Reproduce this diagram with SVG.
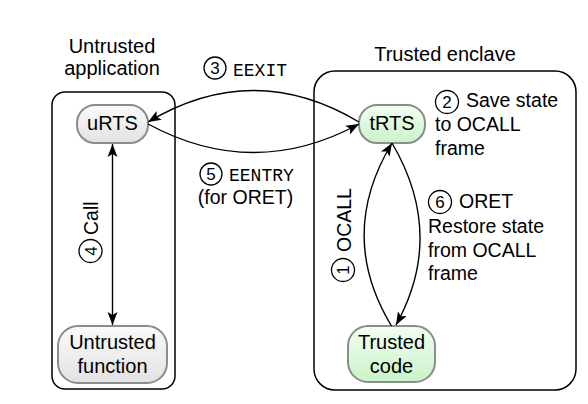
<svg xmlns="http://www.w3.org/2000/svg" width="588" height="404" viewBox="0 0 588 404">
<defs>
<linearGradient id="gGray" x1="0" y1="0" x2="0" y2="1">
<stop offset="0" stop-color="#fafafa"/>
<stop offset="1" stop-color="#e2e2e2"/>
</linearGradient>
<linearGradient id="gGreen" x1="0" y1="0" x2="0" y2="1">
<stop offset="0" stop-color="#f2fff2"/>
<stop offset="1" stop-color="#c9f3c9"/>
</linearGradient>
<marker id="ah" markerUnits="userSpaceOnUse" markerWidth="14" markerHeight="11" refX="13" refY="5" orient="auto-start-reverse" viewBox="0 0 14 10">
<path d="M0,0 L13,5 L0,10 L3,5 z" fill="#000"/>
</marker>
</defs>
<style>
text{font-family:"Liberation Sans",Arial,sans-serif;fill:#000;}
.t{font-size:20px;}
.l{font-size:19.5px;}
.m{font-family:"Liberation Mono","Courier New",monospace;font-size:18px;}
.n{font-size:17px;text-anchor:middle;}
.c{fill:none;stroke:#000;stroke-width:1.3;}
.box{fill:none;stroke:#000;stroke-width:1.5;}
.gray{fill:url(#gGray);stroke:#8c8c8c;stroke-width:2;}
.green{fill:url(#gGreen);stroke:#8c8c8c;stroke-width:2;}
.e{fill:none;stroke:#000;stroke-width:1.4;}
.mid{text-anchor:middle;}
</style>

<g id="untrusted-application">
<rect class="box" x="52" y="92" width="123" height="297" rx="13"/>
<text class="t mid" x="112" y="53">Untrusted</text>
<text class="t mid" x="112" y="75">application</text>
</g>

<g id="trusted-enclave">
<rect class="box" x="314" y="71" width="262" height="319" rx="21"/>
<text class="t mid" x="445" y="61">Trusted enclave</text>
</g>

<g id="uRTS">
<rect class="gray" x="77" y="105" width="71" height="38" rx="18"/>
<text class="t mid" x="112.5" y="130">uRTS</text>
</g>

<g id="tRTS">
<rect class="green" x="359" y="105" width="66" height="38" rx="18"/>
<text class="t mid" x="392" y="130">tRTS</text>
</g>

<g id="untrusted-function">
<rect class="gray" x="58" y="326" width="109" height="57" rx="20"/>
<text class="t mid" x="112.5" y="349">Untrusted</text>
<text class="t mid" x="112.5" y="373">function</text>
</g>

<g id="trusted-code">
<rect class="green" x="348" y="326" width="87" height="56" rx="20"/>
<text class="t mid" x="391.5" y="349">Trusted</text>
<text class="t mid" x="391.5" y="373">code</text>
</g>

<g id="connectors">
<path class="e" d="M359,122 Q253.5,59 148,122" marker-end="url(#ah)"/>
<path class="e" d="M148,124 Q253.5,181 359,124" marker-end="url(#ah)"/>
<path class="e" d="M112.5,144 L112.5,325" marker-start="url(#ah)" marker-end="url(#ah)"/>
<path class="e" d="M391.5,326 Q336.5,235 392,143" marker-end="url(#ah)"/>
<path class="e" d="M392,143 Q446,235 396,325" marker-end="url(#ah)"/>
</g>

<g id="labels">
<circle class="c" cx="215" cy="68" r="11"/>
<text class="n" x="215" y="74">3</text>
<text class="m" x="233" y="76">EEXIT</text>

<circle class="c" cx="211" cy="174" r="11"/>
<text class="n" x="211" y="180">5</text>
<text class="m" x="229" y="181">EENTRY</text>
<text class="l mid" x="245.5" y="204">(for ORET)</text>

<circle class="c" cx="447" cy="102" r="11.5"/>
<text class="n" x="447" y="108">2</text>
<text class="l" x="466" y="107">Save state</text>
<text class="l" x="435" y="131">to OCALL</text>
<text class="l" x="435" y="155">frame</text>

<circle class="c" cx="440" cy="202" r="11.5"/>
<text class="n" x="440" y="208">6</text>
<text class="l" x="459" y="208">ORET</text>
<text class="l" x="428" y="232.5">Restore state</text>
<text class="l" x="428" y="256.5">from OCALL</text>
<text class="l" x="428" y="280">frame</text>

<g transform="translate(343,270) rotate(-90)">
<circle class="c" cx="0" cy="0" r="11.5"/>
<text class="n" x="0" y="6">1</text>
<text class="l" x="18" y="7.5">OCALL</text>
</g>

<g transform="translate(90.5,251) rotate(-90)">
<circle class="c" cx="0" cy="0" r="11.5"/>
<text class="n" x="0" y="6">4</text>
<text class="l" x="16" y="7">Call</text>
</g>
</g>
</svg>
